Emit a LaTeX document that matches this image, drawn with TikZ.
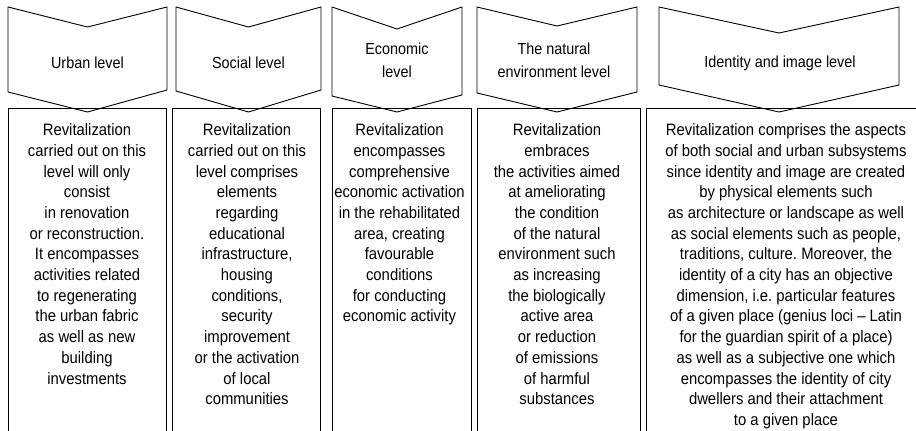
\documentclass[tikz,border=0pt]{standalone}
\usepackage{fontspec}
\setmainfont[FakeStretch=0.9]{Liberation Sans}
\begin{document}
\frenchspacing
\begin{tikzpicture}[x=1pt,y=-1pt,
  outline/.style={draw=black,line width=0.9pt,line join=miter},
  headtext/.style={inner sep=0pt,align=center,font=\fontsize{16}{23}\selectfont},
  bodytext/.style={inner sep=0pt,align=center,anchor=north,font=\fontsize{16.5}{20.7}\selectfont}]
\useasboundingbox (0,0) rectangle (916,431);
% boxes (open at the bottom)
\draw[outline] (8,431) -- (8,108) -- (166,108) -- (166,431);
\draw[outline] (172,431) -- (172,108) -- (320,108) -- (320,431);
\draw[outline] (332,431) -- (332,108) -- (471,108) -- (471,431);
\draw[outline] (477,431) -- (477,108) -- (640,108) -- (640,431);
\draw[outline] (646,431) -- (646,108) -- (916,108);
% chevrons
\draw[outline] (8,7) -- (87.5,27) -- (167,7) -- (167,90) -- (87.5,112) -- (8,92) -- cycle;
\draw[outline] (176,7) -- (248.5,27) -- (321,7) -- (321,90) -- (248.5,112) -- (176,91) -- cycle;
\draw[outline] (332,7) -- (397,29) -- (462,7) -- (462,95) -- (397,112) -- (332,96) -- cycle;
\draw[outline] (477,7) -- (557,26) -- (637,7) -- (637,92) -- (557,112) -- (477,93) -- cycle;
\draw[outline] (659,7) -- (779,33) -- (899,7) -- (899,85) -- (779,112) -- (659,85) -- cycle;
% headers
\node[headtext] (h1) at (87.5,63) {Urban level};
\node[headtext] (h2) at (248.5,63) {Social level};
\node[headtext] (h3) at (397,60.5) {Economic\\level};
\node[headtext] (h4) at (554,60.5) {The natural\\environment level};
\node[headtext] (h5) at (780,63) {Identity and image level};
% body texts
\node[bodytext] (b1) at (87,123.5) {Revitalization\\carried out on this\\level will only\\consist\\in renovation\\or reconstruction.\\It encompasses\\activities related\\to regenerating\\the urban fabric\\as well as new\\building\\investments};
\node[bodytext] (b2) at (247,123.5) {Revitalization\\carried out on this\\level comprises\\elements\\regarding\\educational\\infrastructure,\\housing\\conditions,\\security\\improvement\\or the activation\\of local\\communities};
\node[bodytext] (b3) at (399.5,123.5) {Revitalization\\encompasses\\comprehensive\\economic activation\\in the rehabilitated\\area, creating\\favourable\\conditions\\for conducting\\economic activity};
\node[bodytext] (b4) at (557,123.5) {Revitalization\\embraces\\the activities aimed\\at ameliorating\\the condition\\of the natural\\environment such\\as increasing\\the biologically\\active area\\or reduction\\of emissions\\of harmful\\substances};
\node[bodytext] (b5) at (786,123.5) {Revitalization comprises the aspects\\of both social and urban subsystems\\since identity and image are created\\by physical elements such\\as architecture or landscape as well\\as social elements such as people,\\traditions, culture. Moreover, the\\identity of a city has an objective\\dimension, i.e. particular features\\of a given place (genius loci -- Latin\\for the guardian spirit of a place)\\as well as a subjective one which\\encompasses the identity of city\\dwellers and their attachment\\to a given place};
\end{tikzpicture}
\end{document}
